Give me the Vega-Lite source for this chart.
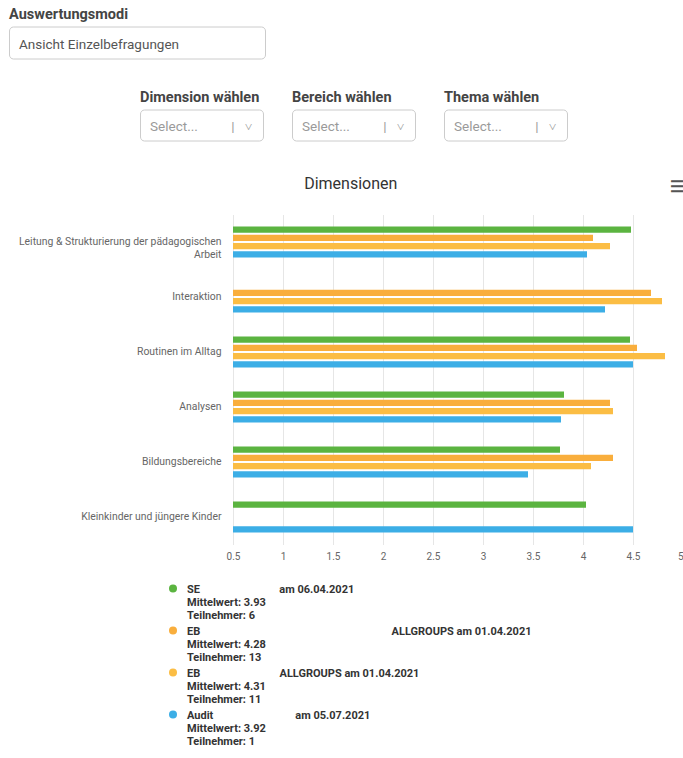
{
  "$schema": "https://vega.github.io/schema/vega-lite/v6.json",
  "background": "white",
  "padding": {"left": 8, "top": 6.5, "right": 0, "bottom": 5},
  "config": {
    "font": "Roboto",
    "view": {"stroke": "#cccccc", "cornerRadius": 4, "fill": "white"}
  },
  "spacing": 34,
  "resolve": {"scale": {"color": "independent"}, "legend": {"color": "independent"}},
  "vconcat": [
    {
      "spacing": 29,
      "vconcat": [
        {
          "width": 256,
          "height": 32,
          "data": {"values": []},
          "mark": "point",
          "encoding": {
            "x": {"field": "u", "type": "quantitative", "axis": null},
            "y": {"field": "v", "type": "quantitative", "axis": null}
          },
          "title": {
            "text": "Auswertungsmodi",
            "subtitle": "\u200b\u00a0\u00a0\u00a0Ansicht Einzelbefragungen",
            "anchor": "start",
            "frame": "group",
            "offset": -25.5,
            "subtitlePadding": 15,
            "fontSize": 14.5,
            "fontWeight": "bold",
            "color": "#444444",
            "subtitleFontSize": 13.5,
            "subtitleColor": "#555555",
            "subtitleFont": "Roboto"
          }
        },
        {
          "spacing": 27,
          "hconcat": [
            {
              "width": 103,
              "height": 31,
              "view": {"stroke": null, "fill": null},
              "data": {"values": []},
              "mark": "point"
            },
            {
              "width": 123,
              "height": 31,
              "data": {"values": []},
              "mark": "point",
              "encoding": {
                "x": {"field": "u", "type": "quantitative", "axis": null},
                "y": {"field": "v", "type": "quantitative", "axis": null}
              },
              "title": {
                "text": "Dimension wählen",
                "subtitle": "\u200b\u00a0\u00a0\u00a0Select...\u00a0\u00a0\u00a0\u00a0\u00a0\u00a0\u00a0\u00a0\u00a0\u00a0|\u00a0\u00a0\u00a0˅",
                "anchor": "start",
                "frame": "group",
                "offset": -24.75,
                "subtitlePadding": 14.5,
                "fontSize": 14.5,
                "fontWeight": "bold",
                "color": "#444444",
                "subtitleFontSize": 13.5,
                "subtitleColor": "#9a9a9a",
                "subtitleFont": "Roboto"
              }
            },
            {
              "width": 123,
              "height": 31,
              "data": {"values": []},
              "mark": "point",
              "encoding": {
                "x": {"field": "u", "type": "quantitative", "axis": null},
                "y": {"field": "v", "type": "quantitative", "axis": null}
              },
              "title": {
                "text": "Bereich wählen",
                "subtitle": "\u200b\u00a0\u00a0\u00a0Select...\u00a0\u00a0\u00a0\u00a0\u00a0\u00a0\u00a0\u00a0\u00a0\u00a0|\u00a0\u00a0\u00a0˅",
                "anchor": "start",
                "frame": "group",
                "offset": -24.75,
                "subtitlePadding": 14.5,
                "fontSize": 14.5,
                "fontWeight": "bold",
                "color": "#444444",
                "subtitleFontSize": 13.5,
                "subtitleColor": "#9a9a9a",
                "subtitleFont": "Roboto"
              }
            },
            {
              "width": 123,
              "height": 31,
              "data": {"values": []},
              "mark": "point",
              "encoding": {
                "x": {"field": "u", "type": "quantitative", "axis": null},
                "y": {"field": "v", "type": "quantitative", "axis": null}
              },
              "title": {
                "text": "Thema wählen",
                "subtitle": "\u200b\u00a0\u00a0\u00a0Select...\u00a0\u00a0\u00a0\u00a0\u00a0\u00a0\u00a0\u00a0\u00a0\u00a0|\u00a0\u00a0\u00a0˅",
                "anchor": "start",
                "frame": "group",
                "offset": -24.75,
                "subtitlePadding": 14.5,
                "fontSize": 14.5,
                "fontWeight": "bold",
                "color": "#444444",
                "subtitleFontSize": 13.5,
                "subtitleColor": "#9a9a9a",
                "subtitleFont": "Roboto"
              }
            }
          ]
        }
      ]
    },
    {
      "spacing": 0,
      "resolve": {"scale": {"color": "independent"}, "legend": {"color": "independent"}},
      "hconcat": [
        {
          "width": 9,
          "height": 10,
          "view": {"stroke": null, "fill": null},
          "data": {"values": []},
          "mark": "point"
        },
        {
          "width": 450,
          "height": 330,
          "view": {"stroke": null, "fill": null},
          "title": {
            "text": "Dimensionen",
            "fontSize": 16,
            "fontWeight": "normal",
            "color": "#333333",
            "offset": -13,
            "anchor": "middle",
            "frame": "bounds"
          },
          "resolve": {"axis": {"x": "independent"}},
          "layer": [
            {
              "data": {
                "values": [
                  {"dim": "Leitung & Strukturierung der pädagogischen Arbeit", "series": "SE", "value": 4.48},
                  {"dim": "Leitung & Strukturierung der pädagogischen Arbeit", "series": "EB1", "value": 4.10},
                  {"dim": "Leitung & Strukturierung der pädagogischen Arbeit", "series": "EB2", "value": 4.27},
                  {"dim": "Leitung & Strukturierung der pädagogischen Arbeit", "series": "Audit", "value": 4.04},
                  {"dim": "Interaktion", "series": "EB1", "value": 4.68},
                  {"dim": "Interaktion", "series": "EB2", "value": 4.79},
                  {"dim": "Interaktion", "series": "Audit", "value": 4.22},
                  {"dim": "Routinen im Alltag", "series": "SE", "value": 4.47},
                  {"dim": "Routinen im Alltag", "series": "EB1", "value": 4.54},
                  {"dim": "Routinen im Alltag", "series": "EB2", "value": 4.82},
                  {"dim": "Routinen im Alltag", "series": "Audit", "value": 4.50},
                  {"dim": "Analysen", "series": "SE", "value": 3.81},
                  {"dim": "Analysen", "series": "EB1", "value": 4.27},
                  {"dim": "Analysen", "series": "EB2", "value": 4.30},
                  {"dim": "Analysen", "series": "Audit", "value": 3.78},
                  {"dim": "Bildungsbereiche", "series": "SE", "value": 3.77},
                  {"dim": "Bildungsbereiche", "series": "EB1", "value": 4.30},
                  {"dim": "Bildungsbereiche", "series": "EB2", "value": 4.08},
                  {"dim": "Bildungsbereiche", "series": "Audit", "value": 3.45},
                  {"dim": "Kleinkinder und jüngere Kinder", "series": "SE", "value": 4.03},
                  {"dim": "Kleinkinder und jüngere Kinder", "series": "Audit", "value": 4.50}
                ]
              },
              "mark": {"type": "bar"},
              "encoding": {
                "y": {
                  "field": "dim",
                  "type": "nominal",
                  "sort": ["Leitung & Strukturierung der pädagogischen Arbeit", "Interaktion", "Routinen im Alltag", "Analysen", "Bildungsbereiche", "Kleinkinder und jüngere Kinder"],
                  "scale": {"paddingInner": 0.4, "paddingOuter": 0.2},
                  "axis": {
                    "title": null,
                    "domain": false,
                    "ticks": false,
                    "labelColor": "#666666",
                    "labelFontSize": 10.4,
                    "labelPadding": 12,
                    "labelLimit": 300,
                    "labelLineHeight": 12.5,
                    "labelExpr": "datum.value == 'Leitung & Strukturierung der pädagogischen Arbeit' ? ['Leitung & Strukturierung der pädagogischen', 'Arbeit'] : datum.label"
                  }
                },
                "yOffset": {
                  "field": "series",
                  "type": "nominal",
                  "sort": ["SE", "EB1", "EB2", "Audit"],
                  "scale": {"paddingInner": 0.27, "paddingOuter": 0.135}
                },
                "x": {
                  "field": "value",
                  "type": "quantitative",
                  "scale": {"domain": [0.5, 5], "nice": false, "zero": false},
                  "axis": {
                    "title": null,
                    "values": [0.5, 1, 1.5, 2, 2.5, 3, 3.5, 4, 4.5, 5],
                    "format": "~g",
                    "grid": true,
                    "gridColor": "#e6e6e6",
                    "domain": false,
                    "ticks": false,
                    "labelColor": "#666666",
                    "labelFontSize": 10,
                    "labelPadding": 7,
                    "labelAlign": {"condition": {"test": "datum.value == 5", "value": "right"}, "value": "center"}
                  }
                },
                "x2": {"datum": 0.5},
                "color": {
                  "field": "series",
                  "type": "nominal",
                  "scale": {"domain": ["SE", "EB1", "EB2", "Audit"], "range": ["#5bb440", "#f9ae3c", "#fbbd44", "#3caee6"]},
                  "legend": {
                    "title": null,
                    "orient": "none",
                    "legendX": -65.5,
                    "legendY": 368.5,
                    "padding": 0,
                    "symbolType": "circle",
                    "symbolSize": 64,
                    "symbolStrokeWidth": 0,
                    "symbolOpacity": 1,
                    "labelFont": "Roboto",
                    "labelFontSize": 11,
                    "labelFontWeight": "bold",
                    "labelColor": "#333333",
                    "labelLineHeight": 13.5,
                    "labelLimit": 500,
                    "labelOffset": 8.5,
                    "labelBaseline": "alphabetic",
                    "rowPadding": 4,
                    "labelExpr": "datum.value == 'SE' ? ['SE\u00a0\u00a0\u00a0\u00a0\u00a0\u00a0\u00a0\u00a0\u00a0\u00a0\u00a0\u00a0\u00a0\u00a0\u00a0\u00a0\u00a0\u00a0\u00a0\u00a0\u00a0\u00a0\u00a0\u00a0\u00a0\u00a0\u00a0\u00a0\u00a0am 06.04.2021', 'Mittelwert: 3.93', 'Teilnehmer: 6'] : datum.value == 'EB1' ? ['EB\u00a0\u00a0\u00a0\u00a0\u00a0\u00a0\u00a0\u00a0\u00a0\u00a0\u00a0\u00a0\u00a0\u00a0\u00a0\u00a0\u00a0\u00a0\u00a0\u00a0\u00a0\u00a0\u00a0\u00a0\u00a0\u00a0\u00a0\u00a0\u00a0\u00a0\u00a0\u00a0\u00a0\u00a0\u00a0\u00a0\u00a0\u00a0\u00a0\u00a0\u00a0\u00a0\u00a0\u00a0\u00a0\u00a0\u00a0\u00a0\u00a0\u00a0\u00a0\u00a0\u00a0\u00a0\u00a0\u00a0\u00a0\u00a0\u00a0\u00a0\u00a0\u00a0\u00a0\u00a0\u00a0\u00a0\u00a0\u00a0\u00a0\u00a0ALLGROUPS am 01.04.2021', 'Mittelwert: 4.28', 'Teilnehmer: 13'] : datum.value == 'EB2' ? ['EB\u00a0\u00a0\u00a0\u00a0\u00a0\u00a0\u00a0\u00a0\u00a0\u00a0\u00a0\u00a0\u00a0\u00a0\u00a0\u00a0\u00a0\u00a0\u00a0\u00a0\u00a0\u00a0\u00a0\u00a0\u00a0\u00a0\u00a0\u00a0\u00a0ALLGROUPS am 01.04.2021', 'Mittelwert: 4.31', 'Teilnehmer: 11'] : ['Audit\u00a0\u00a0\u00a0\u00a0\u00a0\u00a0\u00a0\u00a0\u00a0\u00a0\u00a0\u00a0\u00a0\u00a0\u00a0\u00a0\u00a0\u00a0\u00a0\u00a0\u00a0\u00a0\u00a0\u00a0\u00a0\u00a0\u00a0\u00a0\u00a0\u00a0am 05.07.2021', 'Mittelwert: 3.92', 'Teilnehmer: 1']",
                    "encode": {"labels": {"update": {"dy": {"value": 4}}}}
                  }
                }
              }
            },
            {
              "data": {"values": []},
              "mark": "rule",
              "encoding": {
                "x": {
                  "field": "value",
                  "type": "quantitative",
                  "axis": {
                    "orient": "top",
                    "labels": false,
                    "ticks": false,
                    "domain": false,
                    "grid": false,
                    "title": "☰",
                    "titleX": 443,
                    "titleY": -28,
                    "titleAngle": 0,
                    "titleAlign": "center",
                    "titleBaseline": "middle",
                    "titleFontSize": 16,
                    "titleFontWeight": "bold",
                    "titleColor": "#555555"
                  }
                }
              }
            }
          ]
        }
      ]
    }
  ]
}
